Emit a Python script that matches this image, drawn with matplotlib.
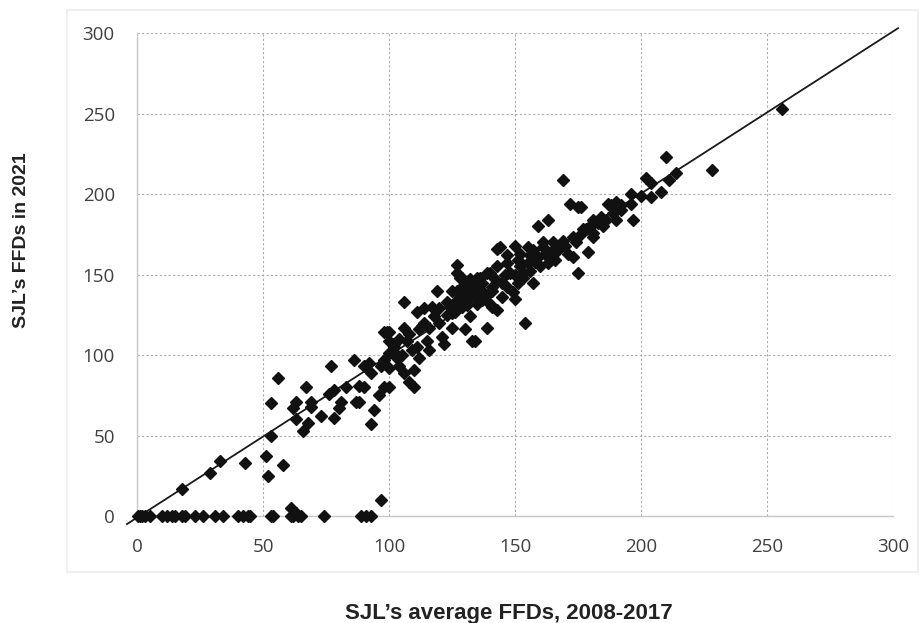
import numpy as np
import matplotlib.pyplot as plt
from matplotlib.patches import Rectangle

# points: (average FFD 2008-2017, FFD 2021)
zero_x = [0.4, 1, 2, 3, 5, 10, 12, 14, 15, 18, 19, 23, 26, 31, 34, 40, 42, 44, 45,
          53, 54, 61, 62, 64, 65, 74, 89, 91, 93]
zero_y = [0] * len(zero_x)

low_x = [18, 29, 33, 43, 51, 52, 58, 97, 61, 63]
low_y = [17, 27, 34, 33, 37, 25, 32, 10, 5, 2]

mid_x = [53, 53, 56, 63, 62, 63, 66, 68, 67, 69, 69, 73, 77, 76, 78, 78, 80, 81, 83, 86,
         87, 88, 88, 90, 91, 92, 93, 94, 93, 96, 98, 99, 102, 100, 100, 103, 98, 97, 90]
mid_y = [50, 70, 86, 71, 67, 60, 53, 58, 80, 68, 71, 62, 93, 76, 78, 61, 67, 71, 80, 97,
         71, 81, 71, 80, 93, 95, 89, 66, 57, 75, 80, 114, 107, 101, 92, 98, 97, 93, 93]

upper_x = [100, 100, 102, 103, 106, 107, 109, 111, 112, 113, 106, 111, 114, 117, 116, 120,
           121, 122, 119, 120, 123, 123, 125, 126, 125, 127, 127, 128, 130, 131, 132, 133,
           132, 133, 135, 137, 139, 139, 141, 143, 143, 141, 129, 135, 129, 98, 105, 104,
           106, 100, 108, 110, 110, 112, 115, 116, 134]
upper_y = [114, 109, 105, 100, 117, 109, 103, 105, 116, 118, 133, 127, 129, 130, 117, 120,
           111, 107, 140, 129, 133, 125, 117, 127, 140, 156, 151, 136, 116, 131, 124, 109,
           145, 137, 148, 134, 117, 151, 142, 166, 155, 130, 142, 142, 148, 114, 100, 93,
           89, 80, 83, 91, 80, 98, 109, 103, 109]

blob_x = [169, 172, 175, 187, 189, 159, 163, 144, 150, 155, 179, 175, 157, 150, 154, 181,
          177, 173, 169, 165, 161, 164, 159, 171, 173, 184, 186, 190, 181, 168, 151, 147,
          155, 153, 148, 140, 136, 132, 128, 145, 151, 141, 137, 132, 127, 145, 140, 135,
          129, 125, 143, 156, 160, 166, 156, 152,
          137, 146, 150, 158, 162, 167, 170, 174, 176, 183, 131, 134, 138, 142, 147, 152,
          157, 163, 118, 114, 108, 104, 126, 124, 130, 147, 153, 149, 161, 165]
blob_y = [209, 194, 192, 194, 192, 180, 184, 167, 168, 167, 164, 151, 145, 135, 120, 182,
          178, 173, 171, 170, 167, 161, 161, 163, 161, 186, 184, 190, 176, 167, 159, 157,
          157, 151, 151, 151, 148, 147, 148, 145, 145, 140, 140, 138, 140, 136, 132, 132,
          130, 126, 128, 152, 155, 159, 162, 163,
          145, 150, 150, 158, 163, 165, 168, 170, 175, 182, 135, 138, 136, 147, 142, 155,
          165, 157, 124, 120, 113, 110, 133, 130, 140, 162, 148, 139, 170, 165]

top_x = [210, 228, 214, 211, 202, 204, 208, 204, 200, 196, 196, 192, 190, 188, 192, 189,
         184, 181, 180, 178, 181, 197, 176, 185, 190, 256]
top_y = [223, 215, 213, 209, 210, 207, 201, 198, 199, 200, 194, 193, 195, 193, 190, 188,
         184, 184, 180, 178, 173, 184, 192, 180, 184, 253]

line_x = [-4, 302]
line_y = [-5, 303]

x = zero_x + low_x + mid_x + upper_x + blob_x + top_x
y = zero_y + low_y + mid_y + upper_y + blob_y + top_y

fig = plt.figure(figsize=(9.24, 6.23), dpi=100)
ax = fig.add_axes([0.1483, 0.1717, 0.8182, 0.7753])

# faint outer chart frame
fig.patches.append(Rectangle((67 / 924, 1 - 572 / 623), 851 / 924, 562 / 623,
                             transform=fig.transFigure, fill=False,
                             edgecolor='#f0f0f0', lw=1.5))

ax.plot(line_x, line_y, color='#1a1a1a', lw=1.3, clip_on=False, zorder=3)
ax.plot(x, y, linestyle='none', marker='D', markersize=6.0, color='#111111',
        clip_on=False, zorder=4)

ax.set_xlim(0, 300)
ax.set_ylim(0, 300)
ax.set_xticks(range(0, 301, 50))
ax.set_yticks(range(0, 301, 50))
ax.grid(True, color='#ababab', linestyle=(0, (2, 2)), linewidth=0.8)
ax.set_axisbelow(True)
for s in ['top', 'right']:
    ax.spines[s].set_visible(False)
for s in ['left', 'bottom']:
    ax.spines[s].set_color('#c8c8c8')
    ax.spines[s].set_linewidth(1.0)
ax.tick_params(length=0, pad=16, labelsize=13.5, labelcolor='#404040')
for lab in ax.get_xticklabels() + ax.get_yticklabels():
    lab.set_family('Open Sans')

fig.text(509 / 924, 1 - 613 / 623, "SJL\u2019s average FFDs, 2008-2017",
         ha='center', va='center', fontsize=16, fontweight='bold',
         family='Liberation Sans', color='#222222')
fig.text(22 / 924, 1 - 240 / 623, "SJL\u2019s FFDs in 2021", rotation=90,
         ha='center', va='center', fontsize=14, fontweight='bold',
         family='Liberation Sans', color='#222222')

fig.savefig('out.png', dpi=100)
